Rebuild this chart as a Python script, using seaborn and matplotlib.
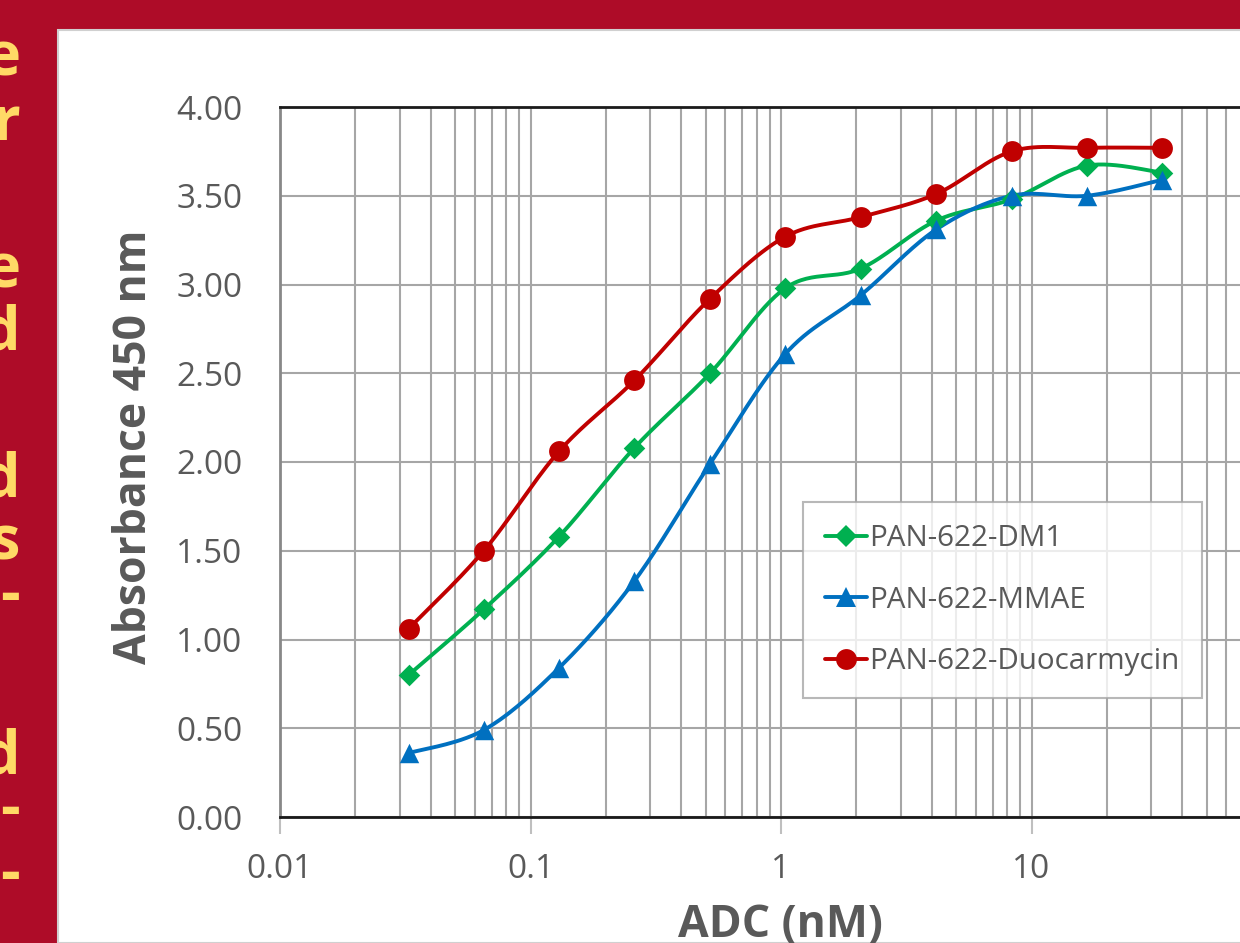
import numpy as np
import pandas as pd
import matplotlib
matplotlib.use("Agg")
import matplotlib.pyplot as plt
from matplotlib.lines import Line2D
from matplotlib.patches import Rectangle
import seaborn as sns

# -----------------------------
# DATA
# -----------------------------
conc = [0.0326, 0.0651, 0.130, 0.260, 0.521, 1.042, 2.083, 4.167, 8.333, 16.667, 33.333]
dm1 = [0.80, 1.17, 1.58, 2.08, 2.50, 2.98, 3.09, 3.36, 3.48, 3.67, 3.63]
mmae = [0.36, 0.49, 0.84, 1.33, 1.99, 2.61, 2.94, 3.31, 3.50, 3.50, 3.59]
duo = [1.06, 1.50, 2.06, 2.46, 2.92, 3.27, 3.38, 3.51, 3.75, 3.77, 3.77]

series_names = ["PAN-622-DM1", "PAN-622-MMAE", "PAN-622-Duocarmycin"]
series_vals = [dm1, mmae, duo]
colors = ["#00B050", "#0070C0", "#C00000"]
markers = ["D", "^", "o"]
marker_sizes = [11, 14, 15]

xticks = [0.01, 0.1, 1, 10, 100]
xtick_labels = ["0.01", "0.1", "1", "10", ""]
yticks = [0, 0.5, 1, 1.5, 2, 2.5, 3, 3.5, 4]

# yellow word endings from the slide text cut off at the left edge
side_letters = ["e", "r", "e", "d", "d", "s", "-", "d", "-", "-"]
side_baselines = [75, 140, 287, 350, 497, 560, 613, 773, 827, 892]


def smooth(xs, ys, n=30):
    # Excel-style smoothed line (Catmull-Rom through the points, log-x space)
    lx = np.log10(xs)
    y = np.asarray(ys, dtype=float)
    px = np.concatenate([[lx[0]], lx, [lx[-1]]])
    py = np.concatenate([[y[0]], y, [y[-1]]])
    out_x, out_y = [], []
    t = np.linspace(0, 1, n)
    for i in range(1, len(px) - 2):
        p0x, p1x, p2x, p3x = px[i - 1], px[i], px[i + 1], px[i + 2]
        p0y, p1y, p2y, p3y = py[i - 1], py[i], py[i + 1], py[i + 2]
        c1x, c1y = p1x + (p2x - p0x) / 6, p1y + (p2y - p0y) / 6
        c2x, c2y = p2x - (p3x - p1x) / 6, p2y - (p3y - p1y) / 6
        bx = (1 - t) ** 3 * p1x + 3 * (1 - t) ** 2 * t * c1x + 3 * (1 - t) * t ** 2 * c2x + t ** 3 * p2x
        by = (1 - t) ** 3 * p1y + 3 * (1 - t) ** 2 * t * c1y + 3 * (1 - t) * t ** 2 * c2y + t ** 3 * p2y
        out_x.extend(bx)
        out_y.extend(by)
    return 10 ** np.array(out_x), np.array(out_y)


# -----------------------------
# FIGURE
# -----------------------------
sns.set_style("white")
plt.rcParams["font.family"] = ["Open Sans", "DejaVu Sans"]

W, H = 1240, 943
fig = plt.figure(figsize=(W / 100, H / 100), dpi=100)
fig.patch.set_facecolor("#AE0C28")

# white slide panel (behind the axes)
panel = Rectangle((58 / W, 0), 1.0, 1 - 30 / H, transform=fig.transFigure,
                  facecolor="white", edgecolor="#D0D0D0", linewidth=1.5, zorder=-5)
fig.patches.append(panel)

for ch, yb in zip(side_letters, side_baselines):
    fig.text(20 / W, 1 - yb / H, ch, ha="right", va="baseline", color="#FFD966",
             fontsize=44, fontweight="bold", family=["Open Sans", "DejaVu Sans"])

ax = fig.add_axes([280 / W, (H - 817) / H, 1002 / W, 710 / H])
ax.set_facecolor("white")
ax.set_zorder(2)

for name, vals, c, m, ms in zip(series_names, series_vals, colors, markers, marker_sizes):
    sx, sy = smooth(conc, vals)
    sns.lineplot(x=sx, y=sy, ax=ax, color=c, linewidth=2.8, sort=False, estimator=None, zorder=3)
    df = pd.DataFrame({"conc": conc, "abs": vals})
    sns.scatterplot(data=df, x="conc", y="abs", ax=ax, color=c, marker=m,
                    s=ms ** 2, edgecolor=c, linewidth=0, zorder=4)

ax.set_xscale("log")
ax.set_xlim(0.01, 100)
ax.set_ylim(0, 4)
ax.set_xticks(xticks)
ax.set_xticklabels(xtick_labels)
ax.set_yticks(yticks)
ax.set_yticklabels([f"{v:.2f}" for v in yticks])

ax.grid(True, which="major", axis="y", color="#A6A6A6", linewidth=1.5)
ax.grid(True, which="both", axis="x", color="#A6A6A6", linewidth=1.5)
ax.set_axisbelow(True)

ax.tick_params(axis="x", which="major", length=12, width=1.5, color="#BFBFBF", pad=14,
               labelsize=24, labelcolor="#595959", bottom=True)
ax.tick_params(axis="x", which="minor", length=0)
ax.tick_params(axis="y", length=0, pad=27, labelsize=24, labelcolor="#595959")

for side in ["top", "bottom"]:
    ax.spines[side].set_color("#1A1A1A")
    ax.spines[side].set_linewidth(2)
ax.spines["left"].set_color("#888888")
ax.spines["left"].set_linewidth(2)
ax.spines["right"].set_visible(False)

ax.set_xlabel("ADC (nM)", fontsize=32, fontweight="bold", color="#595959")
ax.xaxis.set_label_coords((780 - 280) / 1002, -(925 - 817) / 710, transform=ax.transAxes)
ax.xaxis.label.set_va("center")
ax.set_ylabel("Absorbance 450 nm", fontsize=32, fontweight="bold", color="#595959")
ax.yaxis.set_label_coords(-(280 - 135) / 1002, (817 - 447) / 710)
ax.yaxis.label.set_va("center")

handles = [Line2D([], [], color=c, marker=m, markersize=ms, markeredgewidth=0, linewidth=2.8)
           for c, m, ms in zip(colors, markers, marker_sizes)]
leg = ax.legend(handles, series_names, loc="upper left",
                bbox_to_anchor=(803 / W, 1 - 502 / H), bbox_transform=fig.transFigure,
                frameon=True, fancybox=False, fontsize=21.3, labelcolor="#595959",
                handlelength=1.4, handletextpad=0.1, labelspacing=1.1,
                borderpad=0.75, borderaxespad=0)
leg.get_frame().set_edgecolor("#A6A6A6")
leg.get_frame().set_linewidth(1.5)

fig.savefig("out.png", dpi=100, facecolor=fig.get_facecolor())
